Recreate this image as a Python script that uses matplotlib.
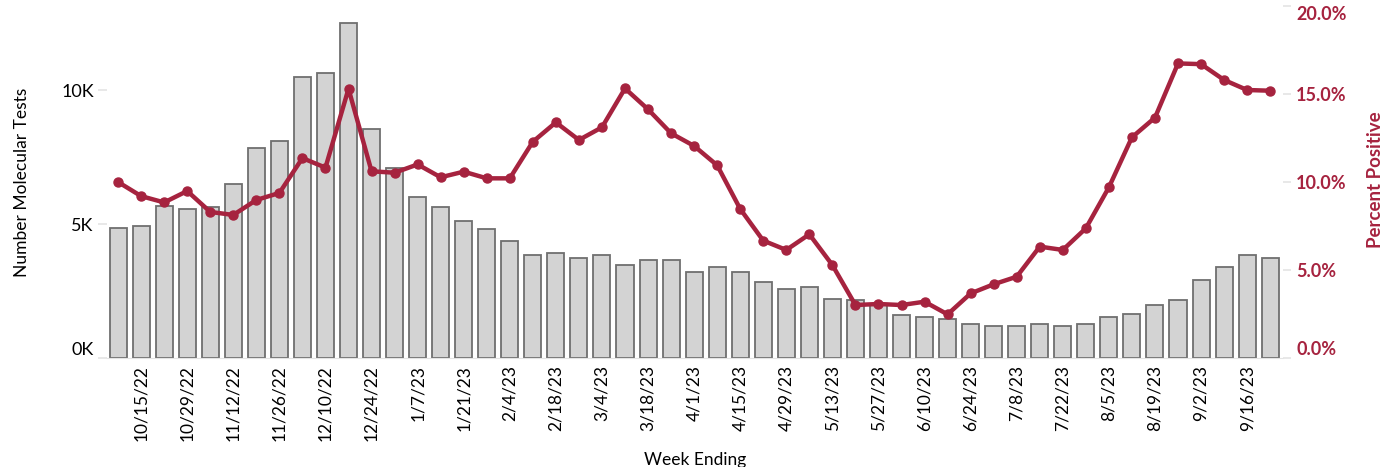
import numpy as np
import pandas as pd
import matplotlib.pyplot as plt
from matplotlib.ticker import FuncFormatter

# weekly molecular tests and percent positive, week ending 10/8/22 .. 9/23/23
weeks = pd.date_range("2022-10-08", "2023-09-23", freq="7D")
tests = [4860, 4925, 5680, 5560, 5620, 6500, 7850, 8100, 10485, 10620,
         12510, 8530, 7080, 5995, 5620, 5125, 4800, 4380, 3855, 3920,
         3730, 3855, 3480, 3670, 3670, 3220, 3410, 3220, 2850, 2590,
         2660, 2215, 2150, 1960, 1590, 1520, 1455, 1270, 1205, 1205,
         1270, 1205, 1270, 1520, 1640, 1965, 2150, 2910, 3410, 3855,
         3730]
pct_pos = [10.0, 9.2, 8.84, 9.49, 8.3, 8.13, 8.98, 9.38, 11.36, 10.82,
           15.3, 10.61, 10.53, 11.0, 10.27, 10.59, 10.21, 10.21, 12.29, 13.39,
           12.39, 13.11, 15.32, 14.13, 12.77, 12.05, 10.95, 8.47, 6.67, 6.14,
           7.03, 5.28, 3.01, 3.07, 3.01, 3.2, 2.48, 3.67, 4.19, 4.62,
           6.33, 6.14, 7.37, 9.7, 12.54, 13.66, 16.74, 16.7, 15.8, 15.23,
           15.19]
week_labels = [f"{d.month}/{d.day}/{d.strftime('%y')}" for d in weeks]

red = "#a6233f"
light = "#e4e4e4"
plt.rcParams["font.family"] = ["Lato", "DejaVu Sans"]

fig = plt.figure(figsize=(13.81, 4.67), dpi=100)
ax = fig.add_axes([0.0775, 0.2334, 0.8516, 0.7536])
x = np.arange(len(weeks))

ax.bar(x, tests, width=0.74, color="#d3d3d3", edgecolor="#6f6f6f", linewidth=1.3, zorder=2)
ax.set_xlim(-0.48, len(weeks) - 0.44)
ax.set_ylim(0, 13134)
ax.set_yticks([0, 5000, 10000])
ax.yaxis.set_major_formatter(FuncFormatter(lambda v, p: f"{v/1000:.0f}K"))
ax.set_xticks(x[1::2])
ax.set_xticklabels(week_labels[1::2], rotation=90, fontsize=12.5)
ax.set_ylabel("Number Molecular Tests", fontsize=12.5)
ax.yaxis.set_label_coords(-0.0655, 0.5)
ax.set_xlabel("Week Ending", fontsize=12.5, labelpad=8)
ax.tick_params(axis="y", labelsize=13, color=light, length=6.5, width=1.2, pad=3)
ax.tick_params(axis="x", length=0, pad=5)
for s in ["top", "right", "left"]:
    ax.spines[s].set_visible(False)
ax.spines["bottom"].set_color(light)
ax.yaxis.get_ticklabels()[0].set_va("bottom")

ax2 = ax.twinx()
ax2.plot(x, pct_pos, color=red, linewidth=3.2, marker="o", markersize=6.5, zorder=3)
ax2.set_ylim(0, 20)
ax2.set_yticks([0, 5, 10, 15, 20])
ax2.yaxis.set_major_formatter(FuncFormatter(lambda v, p: f"{v:.1f}%"))
ax2.tick_params(axis="y", labelsize=13, labelcolor=red, color=light, length=5.8, width=1.2, pad=3.6)
for lbl in ax2.get_yticklabels():
    lbl.set_fontweight("bold")
ax2.get_yticklabels()[0].set_va("bottom")
ax2.get_yticklabels()[-1].set_va("top")
ax2.set_ylabel("Percent Positive", fontsize=13.5, color=red, fontweight="bold")
ax2.yaxis.set_label_coords(1.071, 0.506)
for s in ax2.spines.values():
    s.set_visible(False)

fig.savefig("out.png", dpi=100)
